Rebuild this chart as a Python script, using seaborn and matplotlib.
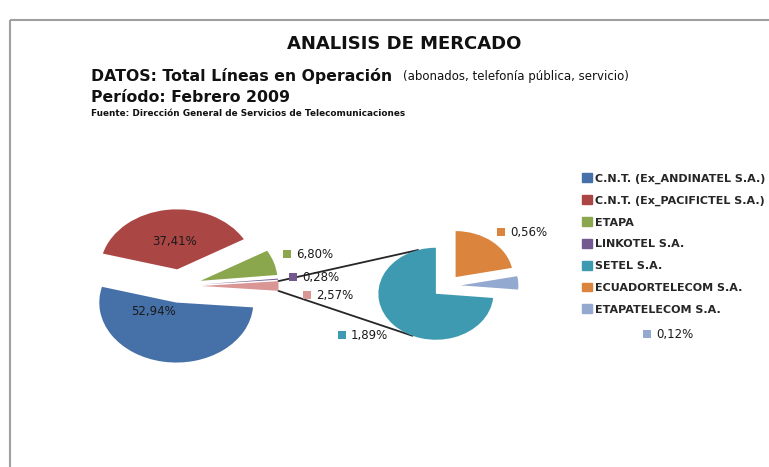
import matplotlib
matplotlib.use("Agg")
import matplotlib.pyplot as plt
import seaborn as sns
import numpy as np
from matplotlib.patches import Patch

W, H = 769, 467

# data (percent of total lines, Feb 2009)
main_labels = ["C.N.T. (Ex_ANDINATEL S.A.)", "C.N.T. (Ex_PACIFICTEL S.A.)", "ETAPA", "LINKOTEL S.A."]
main_shares = [52.94, 37.41, 6.80, 0.28]
sub_labels = ["SETEL S.A.", "ECUADORTELECOM S.A.", "ETAPATELECOM S.A."]
sub_shares = [1.89, 0.56, 0.12]
other_share = round(sum(sub_shares), 2)

main_colors = ["#4570a8", "#aa4644", "#8aa74e", "#725a91"]
other_color = "#d99694"
sub_colors = ["#3e9ab0", "#db843d", "#93a9d0"]


def fmt(v):
    return f"{v:.2f}%".replace(".", ",")


def pie_axes(fig, cx, cy, rx, ry, span=1.6):
    # axes placed in pixels: centre (cx, cy) from top-left, radii rx / ry
    w, h = 2 * span * rx, 2 * span * ry
    ax = fig.add_axes([(cx - w / 2) / W, (H - cy - h / 2) / H, w / W, h / H])
    return ax, span


sns.set_theme(style="white")
plt.rcParams["font.family"] = ["DejaVu Sans"]

fig = plt.figure(figsize=(W / 100, H / 100), dpi=100)
ov = fig.add_axes([0, 0, 1, 1])
ov.set_xlim(0, W)
ov.set_ylim(H, 0)
ov.axis("off")

# main pie
ax1, sp1 = pie_axes(fig, 180, 286, 77, 60)
vals1 = main_shares + [other_share]
w1, _ = ax1.pie(vals1, colors=main_colors + [other_color],
                startangle=-other_share / 100 * 360 / 2, counterclock=False,
                explode=[0.28] * len(vals1), wedgeprops=dict(linewidth=0))
ax1.set_aspect("auto")
ax1.set_xlim(-sp1, sp1)
ax1.set_ylim(-sp1, sp1)
ax1.axis("off")

# secondary pie
ax2, sp2 = pie_axes(fig, 446.5, 286, 57.5, 46)
frac = sub_shares[0] / other_share
w2, _ = ax2.pie(sub_shares, colors=sub_colors, startangle=360 * frac - 270,
                counterclock=False, explode=[0.25] * len(sub_shares),
                wedgeprops=dict(linewidth=0))
ax2.set_aspect("auto")
ax2.set_xlim(-sp2, sp2)
ax2.set_ylim(-sp2, sp2)
ax2.axis("off")


def to_px(ax, pt):
    return ov.transData.inverted().transform(ax.transData.transform(pt))


def arc_pt(w, ang):
    cx, cy = w.center
    a = np.deg2rad(ang)
    return (cx + w.r * np.cos(a), cy + w.r * np.sin(a))


# connector lines between split slice and secondary pie
pink = w1[-1]
setel = w2[0]
for a_main, a_sub in [(pink.theta2, 108), (pink.theta1, 246)]:
    p0 = to_px(ax1, arc_pt(pink, a_main))
    p1 = to_px(ax2, arc_pt(setel, a_sub))
    ov.plot([p0[0], p1[0]], [p0[1], p1[1]], color="#262626", lw=1.3, zorder=3)

# inside labels
for w, v, (dx, dy) in [(w1[0], main_shares[0], (-0.30, -0.15)), (w1[1], main_shares[1], (-0.04, 0.47))]:
    cx, cy = w.center
    ax1.text(cx + dx, cy + dy, fmt(v), ha="center", va="center", fontsize=8.5,
             color="#1a1a1a")

# outside labels with colour keys (pixel positions)
out_labels = [
    (fmt(main_shares[2]), main_colors[2], (287, 254)),
    (fmt(main_shares[3]), main_colors[3], (293, 277)),
    (fmt(other_share), other_color, (307, 295)),
    (fmt(sub_shares[0]), sub_colors[0], (342, 335)),
    (fmt(sub_shares[1]), sub_colors[1], (501, 232)),
    (fmt(sub_shares[2]), sub_colors[2], (647, 334)),
]
for txt, col, (x, y) in out_labels:
    ov.scatter([x], [y], marker="s", s=34, color=col, linewidths=0, zorder=4)
    ov.text(x + 9, y + 0.5, txt, ha="left", va="center", fontsize=8.5,
            color="#1a1a1a", zorder=4)

# legend
handles = [Patch(color=w.get_facecolor()) for w in list(w1[:-1]) + list(w2)]
ov.legend(handles, main_labels + sub_labels, loc="upper left",
          bbox_to_anchor=(578 / W, 1 - 169 / H), bbox_transform=fig.transFigure,
          frameon=False, prop=dict(weight="bold", size=8),
          handlelength=0.85, handleheight=0.85, handletextpad=0.3,
          labelspacing=1.03, borderaxespad=0)

# titles
ov.text(404, 44, "ANALISIS DE MERCADO", ha="center", va="center",
        fontsize=13, fontweight="bold", color="#111111")
t1 = ov.text(91, 76, "DATOS: Total Líneas en Operación", ha="left", va="center",
             fontsize=11.3, fontweight="bold", color="#111111")
ov.annotate("(abonados, telefonía pública, servicio)", xy=(1, 0.45), xycoords=t1,
            xytext=(8, 0), textcoords="offset points", ha="left", va="center",
            fontsize=8.5, color="#111111")
ov.text(91, 97, "Período: Febrero 2009", ha="left", va="center",
        fontsize=11.3, fontweight="bold", color="#111111")
ov.text(91, 113, "Fuente: Dirección General de Servicios de Telecomunicaciones",
        ha="left", va="center", fontsize=6.4, fontweight="bold", color="#111111")

# chart border (top and left edges visible)
ov.plot([10, W], [20, 20], color="#a0a0a0", lw=1.5, solid_capstyle="butt")
ov.plot([10, 10], [20, H], color="#a0a0a0", lw=1.5, solid_capstyle="butt")

fig.savefig("out.png", dpi=100)
